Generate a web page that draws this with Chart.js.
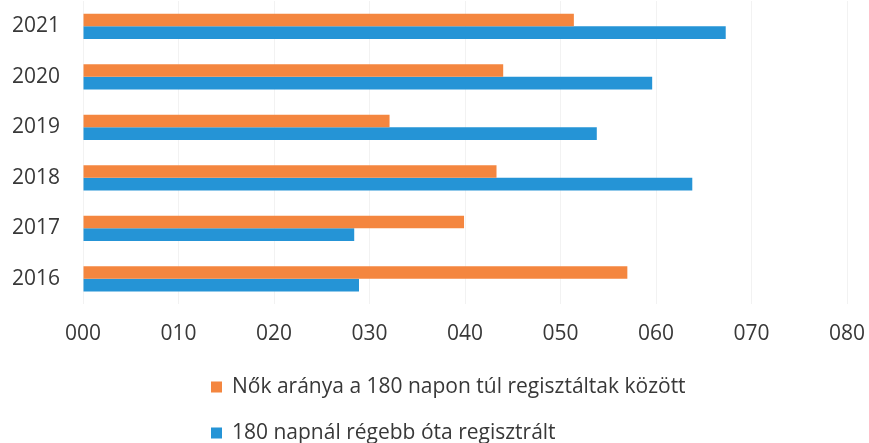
<!DOCTYPE html>
<html>
<head>
<meta charset="utf-8">
<script src="https://cdn.jsdelivr.net/npm/chart.js@4"></script>
<style>
  html, body { margin: 0; padding: 0; background: #fff; }
  #wrap { width: 869px; height: 443px; }
</style>
</head>
<body>
<div id="wrap"><canvas id="chart"></canvas></div>
<script>
// years, newest on top
const years = ['2021', '2020', '2019', '2018', '2017', '2016'];
const womenShare = [51.4, 44.0, 32.1, 43.3, 39.9, 57.0];
const longTerm = [67.3, 59.6, 53.8, 63.8, 28.4, 28.9];
const seriesNames = [
    'Nők aránya a 180 napon túl regisztáltak között',
    '180 napnál régebb óta regisztrált'
];
const seriesColors = ['#F4863F', '#2594D6'];
const xTicks = {min: 0, max: 80, step: 10};

const textColor = '#383838';
const fontFamily = '"Open Sans", Lato, sans-serif';

// legend drawn as two stacked rows under the axis
const stackedLegend = {
    id: 'stackedLegend',
    afterDraw(chart) {
        const ctx = chart.ctx;
        const x = 211, rowY = [387, 433], box = 11;
        ctx.save();
        ctx.font = '21px ' + fontFamily;
        ctx.textBaseline = 'middle';
        chart.data.datasets.forEach((ds, i) => {
            ctx.fillStyle = ds.backgroundColor;
            ctx.fillRect(x, rowY[i] - box / 2, box, box);
            ctx.fillStyle = textColor;
            ctx.fillText(ds.label, x + 21, rowY[i]);
        });
        ctx.restore();
    }
};

const datasets = seriesNames.map((name, i) => ({
    label: name,
    data: [womenShare, longTerm][i],
    backgroundColor: seriesColors[i],
    borderWidth: 0,
    categoryPercentage: 0.5,
    barPercentage: 1.0
}));

new Chart(document.getElementById('chart'), {
    type: 'bar',
    data: {labels: years, datasets: datasets},
    plugins: [stackedLegend],
    options: {
        indexAxis: 'y',
        responsive: true,
        maintainAspectRatio: false,
        animation: false,
        layout: {padding: {top: 1, right: 22, bottom: 79, left: 0}},
        plugins: {
            legend: {display: false},
            tooltip: {enabled: false}
        },
        scales: {
            x: {
                min: xTicks.min,
                max: xTicks.max,
                grid: {color: '#F2F2F2', drawTicks: false},
                border: {display: false},
                ticks: {
                    stepSize: xTicks.step,
                    padding: 17,
                    maxRotation: 0,
                    color: textColor,
                    font: {family: fontFamily, size: 21},
                    callback: v => String(v).padStart(3, '0')
                },
                afterFit(scale) {
                    scale.height = 60;
                    scale.paddingLeft = 0;
                    scale.paddingRight = 0;
                }
            },
            y: {
                grid: {display: false, drawTicks: false},
                border: {display: false},
                ticks: {
                    padding: 23,
                    color: textColor,
                    font: {family: fontFamily, size: 21}
                },
                afterFit(scale) {
                    scale.width = 83;
                    scale.paddingTop = 0;
                    scale.paddingBottom = 0;
                }
            }
        }
    }
});
</script>
</body>
</html>
